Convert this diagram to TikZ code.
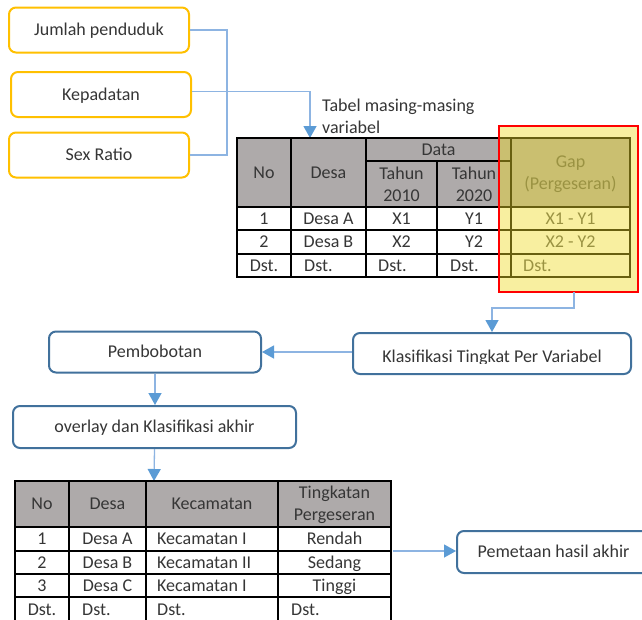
\documentclass[tikz,border=0pt]{standalone}
\usepackage{fontspec}
\setmainfont{Carlito}
\usetikzlibrary{arrows.meta}
\definecolor{orng}{HTML}{FFC000}
\definecolor{bbord}{HTML}{41719C}
\definecolor{connc}{HTML}{8DB4E2}
\definecolor{ahead}{HTML}{5B9BD5}
\definecolor{hgray}{HTML}{AEAAAA}
\definecolor{ovl}{RGB}{239,220,37}
\definecolor{txt}{HTML}{363636}
\definecolor{gtxt}{HTML}{5A5A5A}
\begin{document}
\begin{tikzpicture}[x=1pt,y=-1pt,
  font=\fontsize{18}{22}\selectfont,
  every node/.style={text=txt},
  obox/.style={draw=orng, line width=2pt, rounded corners=7pt, minimum width=180pt, minimum height=45pt, text height=15.5pt, text depth=4.2pt},
  bbox/.style={draw=bbord, line width=2pt, rounded corners=7pt, text height=15.5pt, text depth=4.2pt},
  connline/.style={draw=connc, line width=1.3pt},
  arr/.style={connline, -{Triangle[width=13pt,length=12pt,color=ahead]}},
  tline/.style={line width=1.6pt, draw=black},
  cell/.style={inner sep=0pt, text height=15.5pt, text depth=4.2pt},
  lcell/.style={cell, anchor=west},
  mcell/.style={inner sep=0pt, align=center},
]
\useasboundingbox (0,0) rectangle (642,619);
\fill[white] (0,0) rectangle (642,619);

% top input boxes
\node[obox] (jp) at (99,30) {Jumlah penduduk};
\node[obox] (kp) at (101,94.5) {Kepadatan};
\node[obox] (sr) at (99,155) {Sex Ratio};

\coordinate (bus) at (227,155);
\draw[connline] (jp.east) -| (bus) -- (sr.east);
\coordinate (t1in) at (310,138);
\draw[arr] ([yshift=3pt]kp.east) -| (t1in);

\node[anchor=north west, align=left, inner sep=0pt] (lbl) at (322,99) {Tabel masing-masing\\variabel};

% table 1
\fill[hgray] (237,138) rectangle (630,207);
\draw[tline] (237,138) rectangle (630,277);
\draw[tline] (366,161) -- (511,161);
\foreach \y in {207,230,254} \draw[tline] (237,\y) -- (630,\y);
\foreach \x in {291,366,511} \draw[tline] (\x,138) -- (\x,277);
\draw[tline] (437,161) -- (437,277);

\node[cell] (a1) at (264,172.5) {No};
\node[cell] (a2) at (328.5,172.5) {Desa};
\node[cell] (a3) at (438.5,149.5) {Data};
\node[mcell] (a4) at (401.5,184.5) {Tahun\\2010};
\node[mcell] (a5) at (474,184.5) {Tahun\\2020};
\node[mcell, text=gtxt] (a6) at (570.5,174) {Gap\\(Pergeseran)};

\node[cell] (b1) at (264,218.5) {1};
\node[cell] (b2) at (328.5,218.5) {Desa A};
\node[cell] (b3) at (401.5,218.5) {X1};
\node[cell] (b4) at (474,218.5) {Y1};
\node[cell, text=gtxt] (b5) at (570.5,218.5) {X1 - Y1};

\node[cell] (c1) at (264,242) {2};
\node[cell] (c2) at (328.5,242) {Desa B};
\node[cell] (c3) at (401.5,242) {X2};
\node[cell] (c4) at (474,242) {Y2};
\node[cell, text=gtxt] (c5) at (570.5,242) {X2 - Y2};

\node[cell] (d1) at (264,265.5) {Dst.};
\node[lcell] (d2) at (304,265.5) {Dst.};
\node[lcell] (d3) at (378,265.5) {Dst.};
\node[lcell] (d4) at (450,265.5) {Dst.};
\node[lcell, text=gtxt] (d5) at (523,265.5) {Dst.};

% highlight
\node[draw=red, line width=2pt, fill=ovl, fill opacity=0.435, minimum width=139pt, minimum height=166pt, inner sep=0pt] (gapbox) at (568.5,209) {};

% middle boxes
\node[bbox, minimum width=278pt, minimum height=41pt] (kl) at (492,353.5) {};
\begin{scope}
\clip (360,340) rectangle (625,363.5);
\node[anchor=base, inner sep=0pt] (kltext) at (492,362) {Klasifikasi Tingkat Per Variabel};
\end{scope}
\node[bbox, minimum width=212pt, minimum height=41pt] (pb) at (155,352) {Pembobotan};
\node[bbox, minimum width=283pt, minimum height=42pt] (ov) at (154.5,427) {overlay dan Klasifikasi akhir};
\node[bbox, minimum width=193pt, minimum height=42pt] (pm) at (553.5,552) {Pemetaan hasil akhir};

\coordinate (g1) at (574,292);
\draw[arr] (g1) -- (574,308) -| (kl.north);
\draw[arr] (pb.east -| kl.west) -- (pb.east);
\draw[arr] (pb.south) -- (pb.south |- ov.north);

% table 2
\coordinate (t2in) at (154,481);
\draw[arr] (ov.south) -- (t2in);
\fill[hgray] (15,481) rectangle (391,527);
\draw[tline] (15,625) -- (15,481) -- (391,481) -- (391,625);
\foreach \y in {527,551,574,597} \draw[tline] (15,\y) -- (391,\y);
\foreach \x in {69,146,278} \draw[tline] (\x,481) -- (\x,625);

\node[cell] (e1) at (42,504) {No};
\node[cell] (e2) at (107.5,504) {Desa};
\node[cell] (e3) at (212,504) {Kecamatan};
\node[mcell] (e4) at (334.5,504.5) {Tingkatan\\Pergeseran};

\node[cell] (f1) at (42,539) {1};
\node[cell] (f2) at (107.5,539) {Desa A};
\node[lcell] (f3) at (157,539) {Kecamatan I};
\node[cell] (f4) at (334.5,539) {Rendah};

\node[cell] (g1n) at (42,562.5) {2};
\node[cell] (g2) at (107.5,562.5) {Desa B};
\node[lcell] (g3) at (157,562.5) {Kecamatan II};
\node[cell] (g4) at (334.5,562.5) {Sedang};

\node[cell] (h1) at (42,585.5) {3};
\node[cell] (h2) at (107.5,585.5) {Desa C};
\node[lcell] (h3) at (157,585.5) {Kecamatan I};
\node[cell] (h4) at (334.5,585.5) {Tinggi};

\node[cell] (i1) at (42,610) {Dst.};
\node[lcell] (i2) at (82,610) {Dst.};
\node[lcell] (i3) at (157,610) {Dst.};
\node[lcell] (i4) at (291,610) {Dst.};

\coordinate (t2out) at (393,551);
\draw[arr] (t2out) -- (t2out -| pm.west);
\end{tikzpicture}
\end{document}
